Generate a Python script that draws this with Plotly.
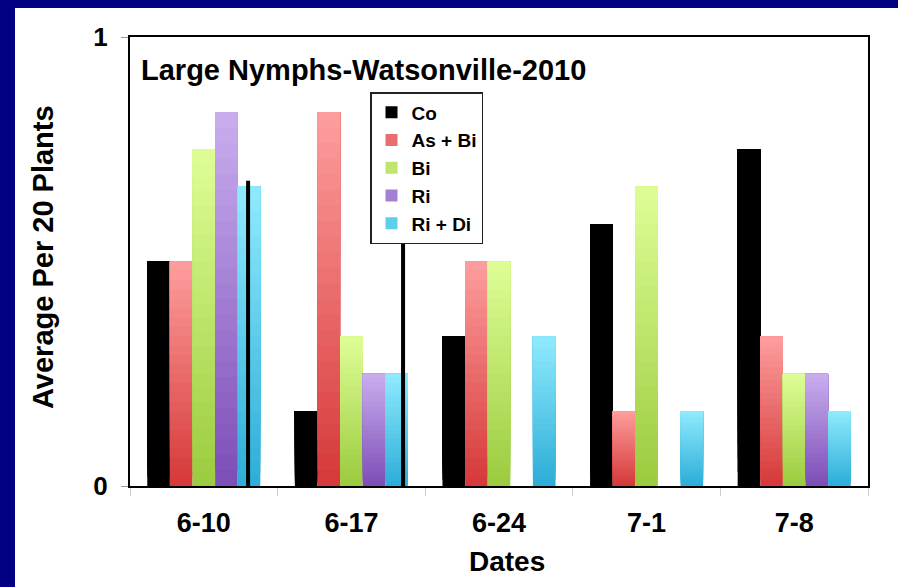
import plotly.graph_objects as go

# Sampling dates and treatments
dates = ["6-10", "6-17", "6-24", "7-1", "7-8"]
treatments = ["Co", "As + Bi", "Bi", "Ri", "Ri + Di"]

# Average large nymphs per 20 plants
co = [0.5, 0.167, 0.333, 0.583, 0.75]
as_bi = [0.5, 0.833, 0.5, 0.167, 0.333]
bi = [0.75, 0.333, 0.5, 0.667, 0.25]
ri = [0.833, 0.25, 0.0, 0.0, 0.25]
ri_di = [0.667, 0.25, 0.333, 0.167, 0.167]

y_ticks = [0, 1]

# top colour, bottom colour for each treatment (vertical shading)
shades = [
    ("#000000", "#000000"),
    ("#ffa0a0", "#d63a3a"),
    ("#e0ff98", "#9ccc40"),
    ("#cbb0f0", "#7e4fb8"),
    ("#92ecff", "#2eaed8"),
]

# divider strokes: (category position, top value, bottom value)
dividers = [(0.30, 0.68, -0.21), (1.35, 0.548, -0.21)]

W, H = 898, 587
L, R, T, B = 130, 30, 37, 101


def hex_to_rgb(h):
    h = h.lstrip("#")
    return tuple(int(h[i:i + 2], 16) for i in (0, 2, 4))


def mix(c_top, c_bot, t):
    a, b = hex_to_rgb(c_top), hex_to_rgb(c_bot)
    r = [round(b[i] + (a[i] - b[i]) * t) for i in range(3)]
    return f"rgb({r[0]},{r[1]},{r[2]})"


def px_x(p):
    # pixel column -> paper x
    return (p - L) / (W - L - R)


def px_y(p):
    # pixel row -> paper y
    return (H - B - p) / (H - T - B)


series = [co, as_bi, bi, ri, ri_di]
fig = go.Figure()
N = 24
for name, vals, (ctop, cbot) in zip(treatments, series, shades):
    for k in range(N):
        frac = k / N
        fig.add_trace(go.Bar(
            x=dates,
            y=[v * (1 - frac) for v in vals],
            base=[v * frac for v in vals],
            name=name,
            offsetgroup=name,
            legendgroup=name,
            showlegend=(k == N // 2),
            marker=dict(color=mix(ctop, cbot, frac), line=dict(width=0)),
            hoverinfo="skip" if k else None,
        ))

# dark blue frame along the top and left of the slide
NAVY = "#000080"
fig.add_shape(type="rect", xref="paper", yref="paper",
              x0=px_x(0), x1=px_x(W), y0=px_y(8), y1=px_y(0),
              fillcolor=NAVY, line=dict(width=0), layer="below")
fig.add_shape(type="rect", xref="paper", yref="paper",
              x0=px_x(0), x1=px_x(15), y0=px_y(H), y1=px_y(0),
              fillcolor=NAVY, line=dict(width=0), layer="below")

for xc, ytop, ybot in dividers:
    fig.add_shape(type="line", xref="x", yref="y",
                  x0=xc, x1=xc, y0=ytop, y1=ybot,
                  line=dict(color="black", width=4))

fig.add_annotation(text="<b>Large Nymphs-Watsonville-2010</b>",
                   xref="paper", yref="paper", x=px_x(139), y=px_y(70),
                   xanchor="left", yanchor="middle", showarrow=False,
                   font=dict(size=29, color="black"))
fig.add_annotation(text="<b>Average Per 20 Plants</b>",
                   xref="paper", yref="paper", x=px_x(43), y=px_y(257),
                   textangle=-90, xanchor="center", yanchor="middle",
                   showarrow=False, font=dict(size=29, color="black"))
fig.add_annotation(text="<b>Dates</b>",
                   xref="paper", yref="paper", x=px_x(507), y=px_y(561),
                   xanchor="center", yanchor="middle", showarrow=False,
                   font=dict(size=28, color="black"))

fig.update_layout(
    width=W, height=H,
    margin=dict(l=L, r=R, t=T, b=B),
    paper_bgcolor="white",
    plot_bgcolor="white",
    barmode="group",
    bargap=0.234,
    bargroupgap=0,
    font=dict(family="Liberation Sans, Arial, sans-serif", color="black"),
    legend=dict(
        x=px_x(370), y=px_y(92), xanchor="left", yanchor="top",
        bgcolor="white", bordercolor="#222222", borderwidth=1.5,
        font=dict(size=19, color="black", weight="bold"),
        tracegroupgap=0, itemwidth=30,
    ),
    xaxis=dict(
        type="category",
        tickfont=dict(size=27, weight="bold"),
        ticks="outside", tickson="boundaries", ticklen=8,
        tickcolor="#cccccc", ticklabelstandoff=12,
        showline=True, linecolor="black", linewidth=2, mirror=True,
        showgrid=False,
    ),
    yaxis=dict(
        range=[0, 1], tickvals=y_ticks, ticktext=[str(t) for t in y_ticks],
        tickfont=dict(size=26, weight="bold"),
        ticks="outside", ticklen=7, tickcolor="#999999",
        ticklabelstandoff=8,
        showline=True, linecolor="black", linewidth=2, mirror=True,
        showgrid=False, zeroline=False,
    ),
)

fig.write_html("out.html")
